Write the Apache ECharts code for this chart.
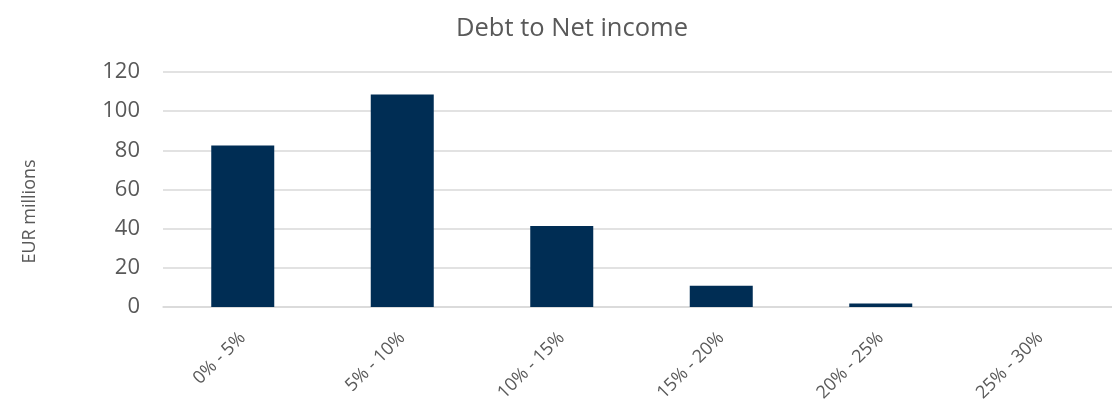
<!DOCTYPE html>
<html>
<head>
<meta charset="utf-8">
<script src="https://cdn.jsdelivr.net/npm/echarts@6/dist/echarts.min.js"></script>
<style>html,body{margin:0;padding:0;background:#fff}#c{width:1112px;height:400px}</style>
</head>
<body>
<div id="c"></div>
<script>
const categories = ['0% - 5%', '5% - 10%', '10% - 15%', '15% - 20%', '20% - 25%', '25% - 30%'];
const values = [82.5, 108.5, 41.3, 10.9, 1.8, 0];
const titleText = 'Debt to Net income';
const yAxisName = 'EUR millions';

const chart = echarts.init(document.getElementById('c'), null, {renderer: 'canvas'});
const font = '"Open Sans", "Liberation Sans", sans-serif';
chart.setOption({
  animation: false,
  backgroundColor: '#ffffff',
  title: {
    text: titleText, left: 567, top: 11, textAlign: 'center',
    textStyle: {fontFamily: font, fontSize: 25.5, fontWeight: 'normal', color: '#595959'}
  },
  grid: {left: 163, width: 957, top: 72, bottom: 93, containLabel: false, outerBoundsMode: 'none'},
  xAxis: {
    type: 'category', data: categories,
    axisLine: {show: true, lineStyle: {color: '#d9d9d9', width: 1.5}},
    axisTick: {show: false},
    axisLabel: {rotate: 45, margin: 28, fontFamily: font, fontSize: 18, color: '#595959', interval: 0}
  },
  yAxis: {
    type: 'value', min: 0, max: 120, interval: 20,
    name: yAxisName, nameLocation: 'middle', nameGap: 124,
    nameTextStyle: {fontFamily: font, fontSize: 18, color: '#595959', padding: [0, 44, 0, 0]},
    axisLine: {show: false}, axisTick: {show: false},
    axisLabel: {fontFamily: font, fontSize: 22, color: '#595959', margin: 23},
    splitLine: {lineStyle: {color: '#d9d9d9', width: 1.5}}
  },
  series: [{
    type: 'bar', data: values, barWidth: 63,
    itemStyle: {color: '#002D54'}
  }]
});
</script>
</body>
</html>
